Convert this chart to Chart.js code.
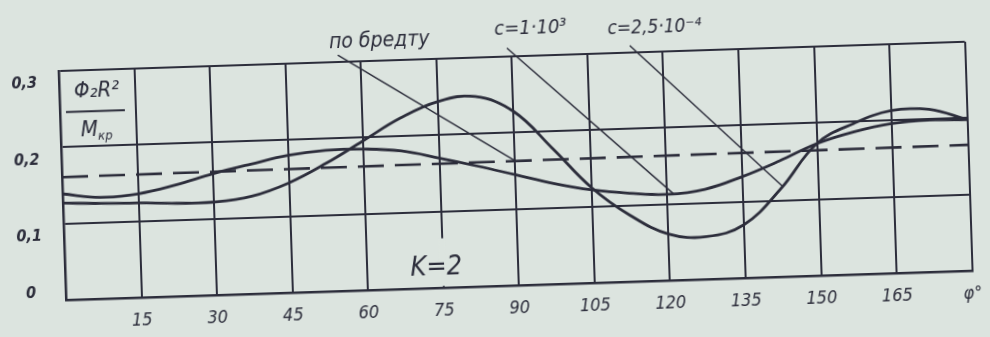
<!DOCTYPE html>
<html>
<head>
<meta charset="utf-8">
<script src="https://cdn.jsdelivr.net/npm/chart.js@4.4.0/dist/chart.umd.min.js"></script>
<style>
html, body { margin: 0; padding: 0; background: #dce4df; overflow: hidden; }
#wrap { width: 990px; height: 337px; transform: rotate(-1.85deg); }
</style>
</head>
<body>
<div id="wrap"><canvas id="myChart" width="990" height="337"></canvas></div>
<script>
// angle, degrees
var phi = [0, 7.5, 15, 22.5, 30, 37.5, 45, 52.5, 60, 67.5, 75, 82.5, 90,
           97.5, 105, 112.5, 120, 127.5, 135, 142.5, 150, 157.5, 165, 172.5, 180];
// c = 1·10³
var seriesC1 = [0.139, 0.133, 0.136, 0.146, 0.159, 0.170, 0.180, 0.185, 0.185, 0.181, 0.170, 0.158, 0.145,
                0.132, 0.122, 0.116, 0.113, 0.118, 0.133, 0.152, 0.173, 0.187, 0.196, 0.199, 0.198];
// c = 2,5·10⁻⁴
var seriesC25 = [0.127, 0.125, 0.124, 0.122, 0.122, 0.128, 0.144, 0.168, 0.196, 0.224, 0.244, 0.249, 0.228,
                 0.178, 0.125, 0.087, 0.061, 0.056, 0.070, 0.115, 0.173, 0.198, 0.213, 0.213, 0.198];
// по Бредту
var bredtPhi = [0, 180];
var bredtValues = [0.161, 0.165];

var xTicks = [0, 15, 30, 45, 60, 75, 90, 105, 120, 135, 150, 165, 180];
var xTickLabels = ['', '15', '30', '45', '60', '75', '90', '105', '120', '135', '150', '165', 'φ°'];
var yTicks = [0, 0.1, 0.2, 0.3];
var yTickLabels = ['0', '0,1', '0,2', '0,3'];

// callouts: text and leader lines (in chart units)
var notes = [
    { text: 'по бредту', phi: 63.8, v: 0.326, size: 21 },
    { text: 'c=1·10³', phi: 93.9, v: 0.335, size: 20 },
    { text: 'c=2,5·10⁻⁴', phi: 118.5, v: 0.331, size: 19 },
    { text: 'K=2', phi: 73.7, v: 0.026, size: 27 }
];
var leaders = [
    [[55.5, 0.309], [90.3, 0.162]],
    [[89.1, 0.311], [121.3, 0.113]],
    [[113.5, 0.309], [143.0, 0.118]]
];

var INK = '#2c2d3b';
var PAPER = '#dce4df';
var FONT = "'DejaVu Sans Condensed', 'DejaVu Sans', sans-serif";

function pts(xs, ys) {
    return xs.map(function (x, i) { return { x: x, y: ys[i] }; });
}

var datasets = [
    { data: pts(phi, seriesC25), borderColor: INK, borderWidth: 2.8, tension: 0.4 },
    { data: pts(phi, seriesC1), borderColor: INK, borderWidth: 2.8, tension: 0.4 },
    { data: pts(bredtPhi, bredtValues), borderColor: INK, borderWidth: 2.6, borderDash: [26, 11] }
];
leaders.forEach(function (l) {
    datasets.push({ data: l.map(function (p) { return { x: p[0], y: p[1] }; }),
                    borderColor: INK, borderWidth: 1.4, clip: false });
});

var notesPlugin = {
    id: 'notes',
    beforeDatasetsDraw: function (chart) {
        var ctx = chart.ctx, x = chart.scales.x, y = chart.scales.y;
        // the 75° grid line stops above K=2
        var gx = x.getPixelForValue(75);
        var top = y.getPixelForValue(0.065);
        ctx.save();
        ctx.fillStyle = PAPER;
        ctx.fillRect(gx - 3, top, 6, y.getPixelForValue(0) - 2 - top);
        ctx.restore();
    },
    afterDatasetsDraw: function (chart) {
        var ctx = chart.ctx, x = chart.scales.x, y = chart.scales.y;
        ctx.save();
        ctx.fillStyle = INK;
        ctx.strokeStyle = INK;
        ctx.textBaseline = 'middle';
        ctx.textAlign = 'center';
        notes.forEach(function (n) {
            ctx.font = 'italic ' + n.size + 'px ' + FONT;
            ctx.fillText(n.text, x.getPixelForValue(n.phi), y.getPixelForValue(n.v));
        });
        // y quantity in the corner cell: Φ₂R² / Mкр
        var cx = x.getPixelForValue(7.4);
        ctx.font = 'italic 22px ' + FONT;
        ctx.fillText('Φ₂R²', cx, y.getPixelForValue(0.272));
        ctx.lineWidth = 2;
        ctx.beginPath();
        ctx.moveTo(x.getPixelForValue(1.2), y.getPixelForValue(0.246));
        ctx.lineTo(x.getPixelForValue(12.9), y.getPixelForValue(0.246));
        ctx.stroke();
        ctx.textAlign = 'left';
        var my = y.getPixelForValue(0.221);
        ctx.font = 'italic 22px ' + FONT;
        var mw = ctx.measureText('M').width;
        ctx.fillText('M', cx - 17, my);
        ctx.font = 'italic 13px ' + FONT;
        ctx.fillText('кр', cx - 17 + mw, my + 6);
        ctx.restore();
    }
};

var ctx = document.getElementById('myChart').getContext('2d');
var myChart = new Chart(ctx, {
    type: 'line',
    data: { datasets: datasets },
    plugins: [notesPlugin],
    options: {
        responsive: false,
        animation: false,
        layout: { padding: { top: 57, right: 5, left: 0, bottom: 0 } },
        elements: { point: { radius: 0 } },
        plugins: { legend: { display: false }, tooltip: { enabled: false } },
        scales: {
            x: {
                type: 'linear', min: 0, max: 180,
                afterFit: function (s) { s.height = 45; },
                afterBuildTicks: function (s) {
                    s.ticks = xTicks.map(function (v) { return { value: v }; });
                },
                ticks: {
                    autoSkip: false, maxRotation: 0, padding: 12, color: INK,
                    font: { family: FONT, size: 18, style: 'italic' },
                    callback: function (v, i) { return xTickLabels[i]; }
                },
                grid: { color: INK, lineWidth: 2, drawTicks: false },
                border: { color: INK, width: 2.5 }
            },
            y: {
                min: 0, max: 0.3,
                afterFit: function (s) { s.width = 62; },
                afterBuildTicks: function (s) {
                    s.ticks = yTicks.map(function (v) { return { value: v }; });
                },
                ticks: {
                    crossAlign: 'center', padding: 22, labelOffset: 12, color: INK,
                    font: { family: FONT, size: 16, style: 'italic', weight: 'bold' },
                    // the zero label sits above the axis line
                    callback: function (v, i) { return i === 0 ? [yTickLabels[0], '', ''] : yTickLabels[i]; }
                },
                grid: { color: INK, lineWidth: 2, drawTicks: false },
                border: { color: INK, width: 2.5 }
            }
        }
    }
});
</script>
</body>
</html>
